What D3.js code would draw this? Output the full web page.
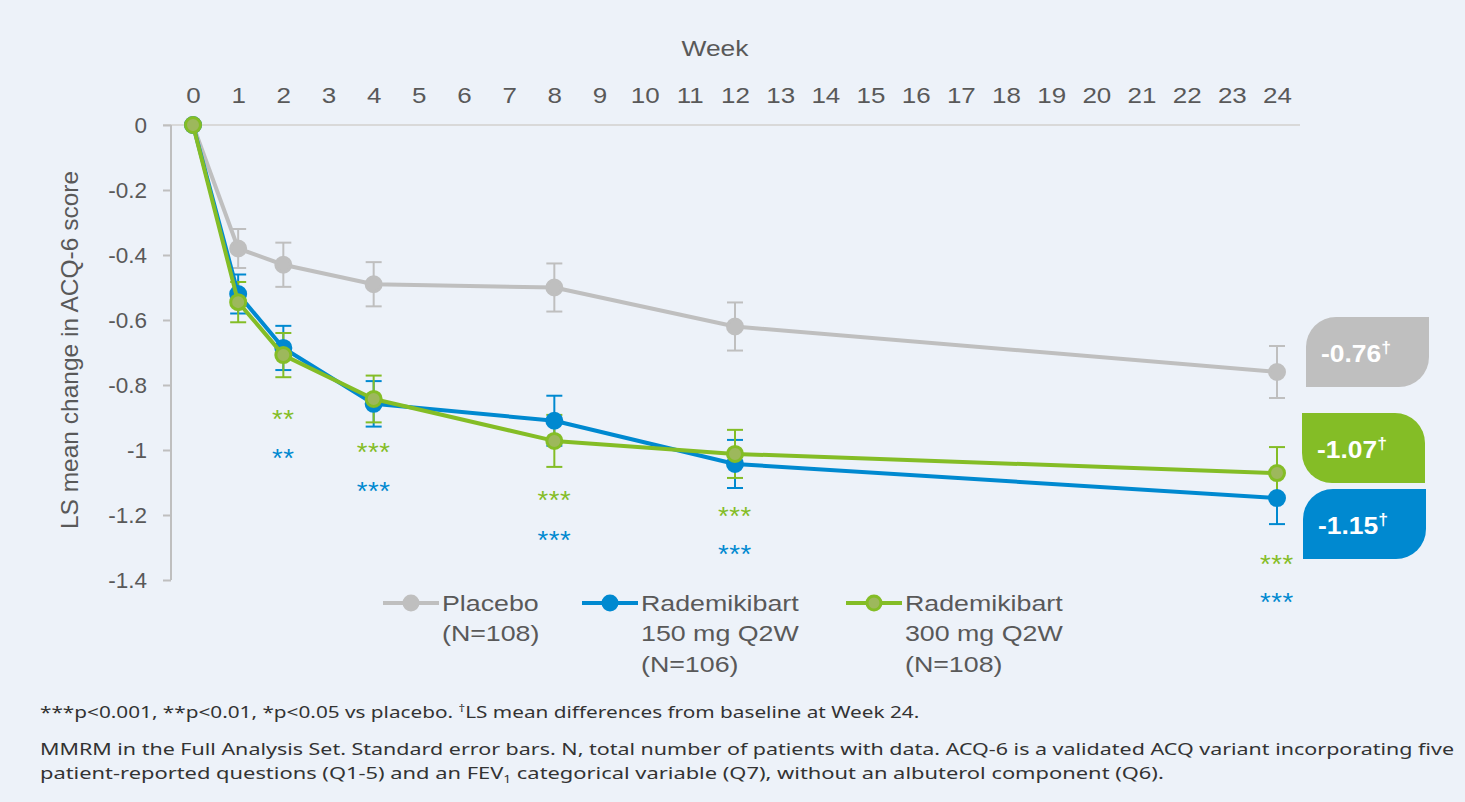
<!DOCTYPE html>
<html><head><meta charset="utf-8">
<script src="https://cdn.jsdelivr.net/npm/d3@7"></script>
<style>
html,body{margin:0;padding:0;background:#EDF2F9;}
svg{display:block;}
</style></head>
<body>
<script>
// ---- data ----
const weeks = [0, 1, 2, 4, 8, 12, 24];
const xTicks = d3.range(0, 25);
const yTicks = [0, -0.2, -0.4, -0.6, -0.8, -1, -1.2, -1.4];
const seriesNames = ["Placebo", "Rademikibart 150 mg Q2W", "Rademikibart 300 mg Q2W"];
const placebo     = [0, -0.38, -0.43, -0.49, -0.50, -0.62, -0.76];
const placeboSE   = [0, 0.060, 0.068, 0.068, 0.074, 0.074, 0.080];
const rad150      = [0, -0.52, -0.686, -0.858, -0.91, -1.043, -1.148];
const rad150SE    = [0, 0.060, 0.068, 0.070, 0.077, 0.074, 0.080];
const rad300      = [0, -0.545, -0.708, -0.843, -0.972, -1.012, -1.071];
const rad300SE    = [0, 0.062, 0.068, 0.072, 0.080, 0.074, 0.080];
// significance markers: [week, label, y-value where drawn]
const star300 = [[2, "**", -0.895], [4, "***", -0.997], [8, "***", -1.145], [12, "***", -1.194], [24, "***", -1.342]];
const star150 = [[2, "**", -1.015], [4, "***", -1.117], [8, "***", -1.268], [12, "***", -1.311], [24, "***", -1.458]];
const badgeValues = ["-0.76", "-1.07", "-1.15"];
const legendLines = [["Placebo", "(N=108)"], ["Rademikibart", "150 mg Q2W", "(N=106)"], ["Rademikibart", "300 mg Q2W", "(N=108)"]];

const C = {gray: "#BFBFBF", blue: "#0089D0", green: "#84BD26", greenFill: "#9DB85C", text: "#595959"};

const W = 1465, H = 802;
const svg = d3.select("body").append("svg").attr("width", W).attr("height", H);
const FONT = "'Liberation Sans', Arial, sans-serif";

function stretch(sel, k, ax) {
  sel.each(function () {
    const x0 = ax !== undefined ? ax : +d3.select(this).attr("x") || 0;
    d3.select(this).attr("transform", `translate(${x0},0) scale(${k},1) translate(${-x0},0)`);
  });
}
function fitWidth(sel, x0, target) {
  const w = sel.node().getComputedTextLength();
  sel.attr("transform", `translate(${x0},0) scale(${target / w},1) translate(${-x0},0)`);
}

const x = d3.scaleLinear().domain([0, 24]).range([193, 1277]);
const y = d3.scaleLinear().domain([0, -1.4]).range([125, 580]);

// x axis (top)
const xAxis = svg.append("g").attr("transform", "translate(0,125)")
  .call(d3.axisTop(x).tickValues(xTicks).tickSize(0).tickPadding(22).tickFormat(d3.format("d")));
xAxis.select(".domain").remove();
svg.append("line").attr("x1", 163).attr("x2", 1300).attr("y1", 125).attr("y2", 125)
  .attr("stroke", "#D9D9D9").attr("stroke-width", 2);
xAxis.selectAll("text").attr("font-family", FONT).attr("font-size", 22).attr("fill", C.text)
  .attr("transform", "scale(1.18,1)");

const wk = svg.append("text").attr("x", 715).attr("y", 56).attr("text-anchor", "middle")
  .attr("font-family", FONT).attr("font-size", 22).attr("fill", C.text).text("Week");
stretch(wk, 1.2);

// y axis
const yAxis = svg.append("g").attr("transform", "translate(171,0)")
  .call(d3.axisLeft(y).tickValues(yTicks).tickSize(8).tickPadding(16));
yAxis.select(".domain").attr("stroke", "#BFBFBF").attr("stroke-width", 2).attr("d", "M0,125V580H0");
yAxis.selectAll(".tick line").attr("stroke", "#BFBFBF").attr("stroke-width", 2);
yAxis.selectAll("text").attr("font-family", FONT).attr("font-size", 22.5).attr("fill", C.text)
  .text(d => d === 0 ? "0" : String(+d.toFixed(1)));

svg.append("text").attr("transform", "translate(78,350) rotate(-90)").attr("text-anchor", "middle")
  .attr("font-family", FONT).attr("font-size", 24.5).attr("fill", C.text).text("LS mean change in ACQ-6 score");

// series
const series = [
  {vals: placebo, se: placeboSE, color: C.gray, fill: C.gray},
  {vals: rad150, se: rad150SE, color: C.blue, fill: C.blue},
  {vals: rad300, se: rad300SE, color: C.green, fill: C.greenFill}
];
const line = d3.line().x((d, i) => x(weeks[i])).y(d => y(d));
series.forEach(s => {
  const g = svg.append("g");
  weeks.forEach((w, i) => {
    if (s.se[i] === 0) return;
    const cx = x(w), y1 = y(s.vals[i] + s.se[i]), y2 = y(s.vals[i] - s.se[i]);
    g.append("line").attr("x1", cx).attr("x2", cx).attr("y1", y1).attr("y2", y2).attr("stroke", s.color).attr("stroke-width", 2);
    [y1, y2].forEach(yy => g.append("line").attr("x1", cx - 8).attr("x2", cx + 8).attr("y1", yy).attr("y2", yy).attr("stroke", s.color).attr("stroke-width", 2));
  });
});
series.forEach(s => {
  const g = svg.append("g");
  g.append("path").datum(s.vals).attr("d", line).attr("fill", "none").attr("stroke", s.color).attr("stroke-width", 4).attr("stroke-linejoin", "round");
  g.selectAll("circle").data(s.vals).join("circle")
    .attr("cx", (d, i) => x(weeks[i])).attr("cy", d => y(d)).attr("r", 7.5)
    .attr("fill", s.fill).attr("stroke", s.color).attr("stroke-width", 3);
});

// stars
[[star300, C.green], [star150, C.blue]].forEach(([arr, col]) => {
  const t = svg.append("g").selectAll("text").data(arr).join("text")
    .attr("x", d => x(d[0])).attr("y", d => y(d[2]) + 12).attr("text-anchor", "middle")
    .attr("font-family", FONT).attr("font-size", 25).attr("fill", col).attr("letter-spacing", 0.5)
    .text(d => d[1]);
  stretch(t, 1.1);
});

// badges
function badgePath(x0, y0, w, h, r, tl, tr, br, bl) {
  const p = d3.path();
  p.moveTo(x0 + (tl ? r : 0), y0);
  p.lineTo(x0 + w - (tr ? r : 0), y0);
  if (tr) p.arcTo(x0 + w, y0, x0 + w, y0 + r, r);
  p.lineTo(x0 + w, y0 + h - (br ? r : 0));
  if (br) p.arcTo(x0 + w, y0 + h, x0 + w - r, y0 + h, r);
  p.lineTo(x0 + (bl ? r : 0), y0 + h);
  if (bl) p.arcTo(x0, y0 + h, x0, y0 + h - r, r);
  p.lineTo(x0, y0 + (tl ? r : 0));
  if (tl) p.arcTo(x0, y0, x0 + r, y0, r);
  p.closePath();
  return p.toString();
}
const badges = [
  {v: badgeValues[0], color: C.gray, x0: 1306, y0: 317, corners: [1, 0, 1, 0]},
  {v: badgeValues[1], color: C.green, x0: 1302, y0: 413, corners: [0, 1, 0, 1]},
  {v: badgeValues[2], color: C.blue, x0: 1303, y0: 489, corners: [1, 0, 1, 0]}
];
badges.forEach(b => {
  svg.append("path").attr("d", badgePath(b.x0, b.y0, 123, 70, 30, ...b.corners)).attr("fill", b.color);
  const t = svg.append("text").attr("x", b.x0 + 15).attr("y", b.y0 + 45)
    .attr("font-family", FONT).attr("font-size", 24).attr("font-weight", "bold").attr("fill", "#fff");
  t.append("tspan").text(b.v);
  t.append("tspan").attr("font-size", 16).attr("dy", -9).text("†");
  stretch(t, 1.1);
});

// legend
const legendX = [383, 582, 846];
legendLines.forEach((lines, i) => {
  const s = series[i];
  const lx = legendX[i];
  const g = svg.append("g");
  g.append("line").attr("x1", lx).attr("x2", lx + 56).attr("y1", 603).attr("y2", 603).attr("stroke", s.color).attr("stroke-width", 4);
  g.append("circle").attr("cx", lx + 28).attr("cy", 603).attr("r", 7).attr("fill", s.fill).attr("stroke", s.color).attr("stroke-width", 3);
  lines.forEach((t, j) => {
    const tx = g.append("text").attr("x", lx + 59).attr("y", 611 + j * 30.5)
      .attr("font-family", FONT).attr("font-size", 22.5).attr("fill", C.text).text(t);
    stretch(tx, 1.19);
  });
});

// footnotes
const FN = "'Noto Sans', sans-serif";
const f1 = svg.append("text").attr("x", 40).attr("y", 718).attr("font-family", FN).attr("font-size", 16).attr("fill", "#333");
f1.append("tspan").text("***p<0.001, **p<0.01, *p<0.05 vs placebo. ");
f1.append("tspan").attr("font-size", 10).attr("dy", -6).text("†");
f1.append("tspan").attr("dy", 6).text("LS mean differences from baseline at Week 24.");
fitWidth(f1, 40, 880);
const f2 = svg.append("text").attr("x", 40).attr("y", 755).attr("font-family", FN).attr("font-size", 16).attr("fill", "#333")
  .text("MMRM in the Full Analysis Set. Standard error bars. N, total number of patients with data. ACQ-6 is a validated ACQ variant incorporating five");
fitWidth(f2, 40, 1415);
const f3 = svg.append("text").attr("x", 40).attr("y", 779).attr("font-family", FN).attr("font-size", 16).attr("fill", "#333");
f3.append("tspan").text("patient-reported questions (Q1-5) and an FEV");
f3.append("tspan").attr("font-size", 10).attr("dy", 4).text("1");
f3.append("tspan").attr("dy", -4).text(" categorical variable (Q7), without an albuterol component (Q6).");
fitWidth(f3, 40, 1125);
</script>
</body></html>
